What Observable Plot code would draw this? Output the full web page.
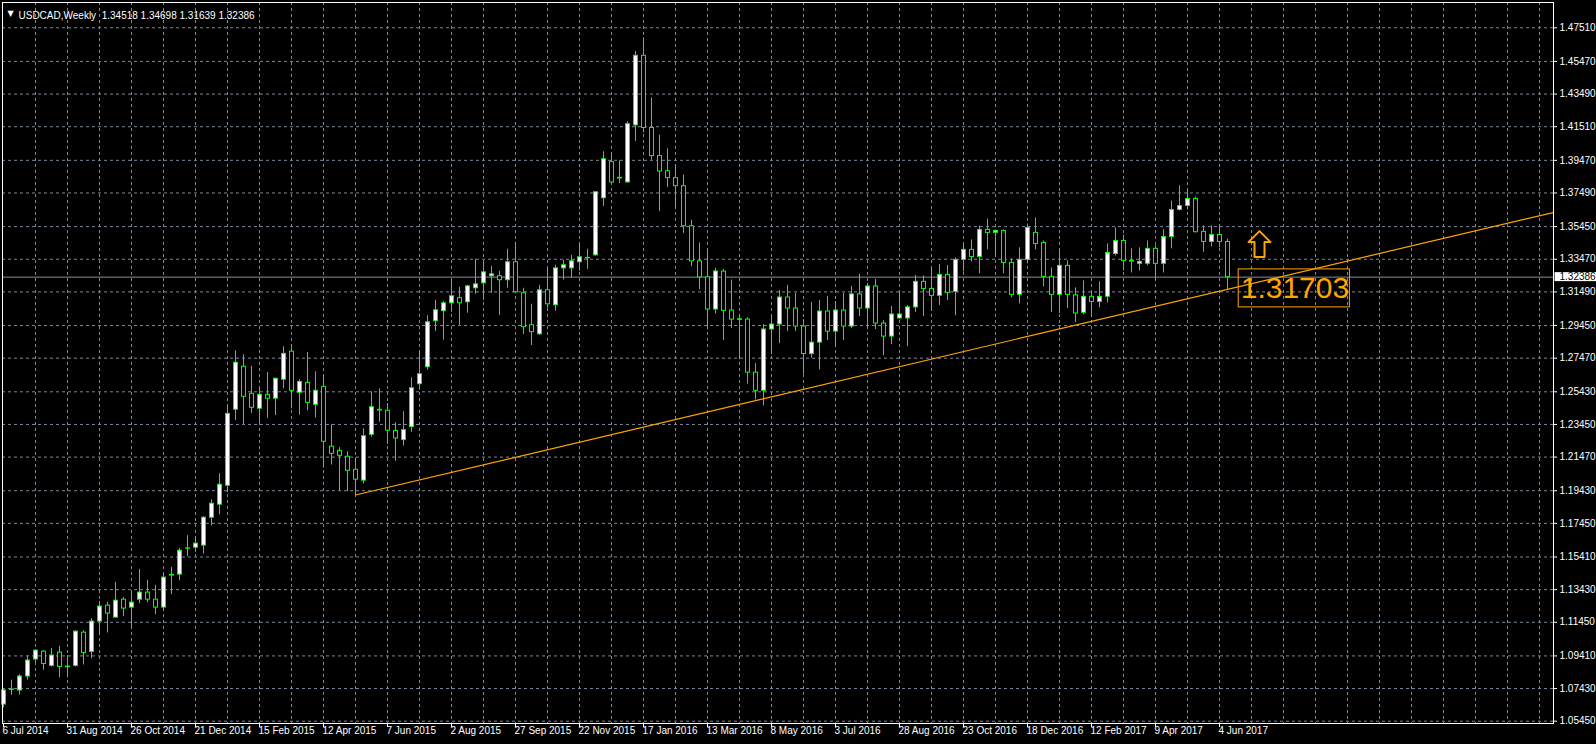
<!DOCTYPE html>
<html><head><meta charset="utf-8">
<script src="https://cdn.jsdelivr.net/npm/d3@7"></script>
<script src="https://cdn.jsdelivr.net/npm/@observablehq/plot@0.6"></script>
<style>
html,body{margin:0;padding:0;background:#000;overflow:hidden;}
#chart svg{display:block;}
</style></head><body><div id="chart"></div>
<script>
// ---- data: weekly USDCAD candles (one per week, first = 6 Jul 2014) ----
const open = [1.0646,1.0735,1.0731,1.0816,1.0919,1.0967,1.0880,1.0961,1.0872,1.0880,
1.1082,1.0965,1.1149,1.1246,1.1173,1.1282,1.1234,1.1282,1.1325,1.1282,
1.1234,1.1428,1.1434,1.1591,1.1597,1.1610,1.1779,1.1858,1.1973,1.2434,
1.2695,1.2531,1.2440,1.2525,1.2501,1.2616,1.2786,1.2537,1.2597,1.2464,
1.2573,1.2210,1.2185,1.2149,1.2070,1.2004,1.2282,1.2430,1.2428,1.2305,
1.2250,1.2329,1.2589,1.2692,1.2971,1.3032,1.3080,1.3111,1.3086,1.3171,
1.3201,1.3244,1.3244,1.3220,1.3329,1.3141,1.2947,1.2892,1.3159,1.3068,
1.3292,1.3292,1.3329,1.3353,1.3371,1.3717,1.3936,1.3837,1.3813,1.4159,
1.4581,1.4143,1.3973,1.3881,1.3839,1.3790,1.3547,1.3334,1.3237,1.3042,
1.3272,1.3036,1.2983,1.2981,1.2659,1.2549,1.2921,1.2951,1.3115,1.3048,
1.2939,1.2772,1.2841,1.3030,1.2908,1.3036,1.2939,1.3134,1.3048,1.3182,
1.2957,1.2878,1.2988,1.2988,1.3055,1.3210,1.3167,1.3125,1.3252,1.3149,
1.3343,1.3404,1.3361,1.3525,1.3507,1.3519,1.3325,1.3131,1.3343,1.3507,
1.3446,1.3240,1.3131,1.3307,1.3128,1.3022,1.3119,1.3088,1.3119,1.3379,
1.3458,1.3337,1.3319,1.3319,1.3410,1.3319,1.3482,1.3646,1.3670,1.3713,
1.3513,1.3452,1.3494,1.34518];
const high = [1.0737,1.0794,1.0828,1.0941,1.0979,1.0973,1.0987,1.0999,1.0943,1.1094,
1.1094,1.1167,1.1272,1.1266,1.1387,1.1296,1.1333,1.1466,1.1400,1.1369,
1.1440,1.1478,1.1593,1.1670,1.1664,1.1785,1.1888,1.2046,1.2458,1.2792,
1.2768,1.2697,1.2567,1.2660,1.2626,1.2816,1.2830,1.2616,1.2781,1.2664,
1.2640,1.2343,1.2204,1.2179,1.2143,1.2319,1.2543,1.2561,1.2471,1.2355,
1.2422,1.2628,1.2783,1.3004,1.3098,1.3092,1.3220,1.3177,1.3189,1.3347,
1.3329,1.3304,1.3274,1.3408,1.3450,1.3171,1.3074,1.3189,1.3292,1.3311,
1.3341,1.3371,1.3438,1.3408,1.3758,1.3999,1.3993,1.3944,1.4181,1.4607,
1.4690,1.4325,1.4100,1.4017,1.3920,1.3859,1.3584,1.3446,1.3407,1.3292,
1.3286,1.3221,1.3012,1.2992,1.2714,1.2951,1.3012,1.3158,1.3189,1.3140,
1.2981,1.3085,1.3097,1.3122,1.3091,1.3140,1.3182,1.3256,1.3201,1.3225,
1.2975,1.3061,1.3146,1.3067,1.3249,1.3246,1.3294,1.3315,1.3309,1.3355,
1.3446,1.3464,1.3549,1.3591,1.3523,1.3525,1.3349,1.3416,1.3561,1.3597,
1.3458,1.3294,1.3404,1.3337,1.3173,1.3216,1.3149,1.3210,1.3440,1.3537,
1.3494,1.3410,1.3416,1.3458,1.3428,1.3525,1.3700,1.3793,1.3773,1.3725,
1.3549,1.3549,1.3549,1.34698];
const low = [1.0626,1.0703,1.0703,1.0794,1.0899,1.0854,1.0874,1.0808,1.0808,1.0874,
1.0886,1.0923,1.1064,1.1080,1.1173,1.1179,1.1107,1.1258,1.1264,1.1191,
1.1210,1.1313,1.1397,1.1543,1.1569,1.1559,1.1729,1.1797,1.1931,1.2369,
1.2345,1.2412,1.2357,1.2381,1.2399,1.2561,1.2440,1.2401,1.2428,1.2383,
1.2080,1.2099,1.1941,1.1937,1.1919,1.1985,1.2268,1.2359,1.2224,1.2121,
1.2214,1.2297,1.2553,1.2674,1.2909,1.2856,1.3026,1.2947,1.3020,1.3135,
1.3098,1.3141,1.3006,1.3171,1.3141,1.2890,1.2824,1.2886,1.3050,1.3032,
1.3220,1.3232,1.3274,1.3286,1.3365,1.3667,1.3802,1.3806,1.3809,1.4062,
1.4113,1.3948,1.3636,1.3782,1.3650,1.3504,1.3302,1.3162,1.2919,1.3014,
1.2854,1.2927,1.2738,1.2590,1.2494,1.2458,1.2768,1.2835,1.2908,1.2908,
1.2651,1.2748,1.2675,1.2854,1.2811,1.2854,1.2927,1.3000,1.2921,1.2921,
1.2762,1.2829,1.2981,1.2817,1.3024,1.3000,1.3030,1.3067,1.3097,1.3004,
1.3270,1.3331,1.3258,1.3404,1.3361,1.3258,1.3113,1.3076,1.3319,1.3404,
1.3179,1.3024,1.3018,1.3048,1.2963,1.3010,1.2995,1.3052,1.3082,1.3367,
1.3276,1.3264,1.3276,1.3307,1.3216,1.3264,1.3410,1.3640,1.3646,1.3507,
1.3389,1.3422,1.3416,1.31639];
const close = [1.0731,1.0737,1.0816,1.0913,1.0973,1.0892,1.0943,1.0874,1.0876,1.1088,
1.0959,1.1149,1.1240,1.1198,1.1276,1.1228,1.1264,1.1325,1.1282,1.1234,
1.1416,1.1432,1.1579,1.1593,1.1622,1.1779,1.1864,1.1979,1.2409,1.2719,
1.2513,1.2446,1.2525,1.2501,1.2622,1.2773,1.2549,1.2603,1.2476,1.2549,
1.2240,1.2167,1.2155,1.2064,1.2010,1.2274,1.2450,1.2434,1.2307,1.2260,
1.2311,1.2565,1.2650,1.2965,1.3038,1.3080,1.3123,1.3080,1.3183,1.3195,
1.3268,1.3256,1.3220,1.3329,1.3147,1.2935,1.2905,1.3159,1.3074,1.3292,
1.3311,1.3335,1.3359,1.3355,1.3754,1.3954,1.3813,1.3841,1.4167,1.4581,
1.4143,1.3973,1.3879,1.3839,1.3790,1.3547,1.3334,1.3237,1.3042,1.3273,
1.3034,1.2981,1.2979,1.2659,1.2549,1.2921,1.2951,1.3115,1.3048,1.2939,
1.2772,1.2841,1.3030,1.2908,1.3036,1.2939,1.3134,1.3048,1.3182,1.2957,
1.2878,1.3012,1.3012,1.3055,1.3210,1.3167,1.3125,1.3252,1.3143,1.3343,
1.3404,1.3361,1.3525,1.3507,1.3519,1.3325,1.3131,1.3343,1.3537,1.3440,
1.3240,1.3131,1.3307,1.3131,1.3018,1.3119,1.3088,1.3119,1.3385,1.3458,
1.3337,1.3333,1.3331,1.3410,1.3319,1.3482,1.3646,1.3670,1.3713,1.3511,
1.3452,1.3494,1.3452,1.32386];
const priceTicks = [1.05450,1.07430,1.09410,1.11450,1.13430,1.15410,1.17450,1.19430,1.21470,1.23450,
1.25430,1.27470,1.29450,1.31490,1.33470,1.35450,1.37490,1.39470,1.41510,1.43490,1.45470,1.47510];
const dateLabels = ["6 Jul 2014","31 Aug 2014","26 Oct 2014","21 Dec 2014","15 Feb 2015","12 Apr 2015",
"7 Jun 2015","2 Aug 2015","27 Sep 2015","22 Nov 2015","17 Jan 2016","13 Mar 2016","8 May 2016",
"3 Jul 2016","28 Aug 2016","23 Oct 2016","18 Dec 2016","12 Feb 2017","9 Apr 2017","4 Jun 2017"];
const titleText = "USDCAD,Weekly  1.34518 1.34698 1.31639 1.32386";
const bidPrice = 1.32386;
const trendBars = [44, 193.75];
const trendPrices = [1.1917, 1.3631];
const levelPrice = 1.31703;
const levelBars = [154.4, 168.3];
const arrowBar = 157;
const arrowPrice = 1.336;

// ---- build ----
const candles = open.map((o, i) => ({bar: i, open: o, high: high[i], low: low[i], close: close[i],
  top: Math.max(o, close[i]), bottom: Math.min(o, close[i]), up: close[i] >= o}));
const barsPerLabel = 8, barsPerGrid = 4;
const xDomain = [-0.125, 193.75];
const yDomain = [1.053105, 1.49044];
const labelBars = dateLabels.map((_, k) => k * barsPerLabel);
const gridBars = d3.range(barsPerGrid, xDomain[1], barsPerGrid);
const trend = trendBars.map((b, k) => ({bar: b, price: trendPrices[k]}));

const LIME = "#00ff00", GRID = "#7a8898", ORANGE = "#ffa500", BID = "#8090a0";
const big = candles.filter(d => d.top - d.bottom > 0.0009);

const hollowArrow = {draw(ctx, l) {
  const hw = 11, sw = 5, hh = 11;
  ctx.moveTo(-sw, 0); ctx.lineTo(-sw, -(l - hh)); ctx.lineTo(-hw, -(l - hh));
  ctx.lineTo(0, -l); ctx.lineTo(hw, -(l - hh)); ctx.lineTo(sw, -(l - hh));
  ctx.lineTo(sw, 0); ctx.closePath();
}};

const chart = Plot.plot({
  width: 1596, height: 744,
  marginTop: 2, marginRight: 43, marginBottom: 21, marginLeft: 2,
  x: {domain: xDomain, axis: null},
  y: {domain: yDomain, axis: null},
  style: {background: "#000", color: "#fff", fontFamily: "'Liberation Sans', Arial, sans-serif", fontSize: "10px"},
  marks: [
    Plot.ruleY(priceTicks, {y: d => d, stroke: GRID, strokeDasharray: "3,3"}),
    Plot.ruleX(gridBars, {x: d => d, stroke: GRID, strokeDasharray: "3,3"}),
    Plot.ruleY([bidPrice], {y: d => d, stroke: BID}),
    Plot.ruleX(candles, {x: "bar", y1: "high", y2: "low", stroke: LIME}),
    Plot.ruleX(candles, {x: "bar", y1: "top", y2: "bottom", stroke: LIME, strokeWidth: 5, insetTop: -0.5, insetBottom: -0.5}),
    Plot.ruleX(big.filter(d => d.up), {x: "bar", y1: "top", y2: "bottom", stroke: "#fff", strokeWidth: 3, insetTop: 0.5, insetBottom: 0.5}),
    Plot.ruleX(big.filter(d => !d.up), {x: "bar", y1: "top", y2: "bottom", stroke: "#000", strokeWidth: 3, insetTop: 0.5, insetBottom: 0.5}),
    Plot.line(trend, {x: "bar", y: "price", stroke: ORANGE, strokeWidth: 1.2, clip: true}),
    Plot.rect([levelPrice], {x1: () => levelBars[0], x2: () => levelBars[1], y1: d => d, y2: d => d,
      insetTop: -19, insetBottom: -19, stroke: ORANGE, fill: "none"}),
    Plot.text([levelPrice], {x: () => levelBars[0], y: d => d, text: d => d.toFixed(5), textAnchor: "start",
      dx: 2, fill: ORANGE, fontSize: 30, fontFamily: "Arial, 'Liberation Sans', sans-serif"}),
    Plot.vector([arrowPrice], {x: () => arrowBar, y: d => d, length: 26, anchor: "start", shape: hollowArrow,
      stroke: ORANGE, strokeWidth: 2, fill: "none"}),
    Plot.frame({stroke: "#fff"}),
    // right price axis
    Plot.ruleY(priceTicks, {y: d => d, x1: () => xDomain[1], x2: () => xDomain[1], insetRight: -4, stroke: "#fff"}),
    Plot.text(priceTicks, {y: d => d, frameAnchor: "right", dx: 6, textAnchor: "start", text: d => d.toFixed(5), fill: "#fff"}),
    Plot.rect([bidPrice], {x1: () => xDomain[1] + 0.2, x2: () => xDomain[1] + 6, y1: d => d, y2: d => d,
      insetTop: -4.5, insetBottom: -4.5, fill: "#fff"}),
    Plot.text([bidPrice], {y: d => d, frameAnchor: "right", dx: 6, textAnchor: "start", text: d => d.toFixed(5), fill: "#000"}),
    // bottom time axis
    Plot.ruleX(labelBars, {x: d => d, y1: () => yDomain[0], y2: () => yDomain[0], insetBottom: -4, stroke: "#fff"}),
    Plot.text(labelBars, {x: d => d, frameAnchor: "bottom", dy: 10, dx: -1, textAnchor: "start",
      text: (d, i) => dateLabels[i], fill: "#fff"}),
    // title
    Plot.text(["\u25BC"], {frameAnchor: "top-left", dx: 5, dy: 8, textAnchor: "start", fill: "#fff", fontSize: 8, fontFamily: "'DejaVu Sans', sans-serif"}),
    Plot.text([titleText], {frameAnchor: "top-left", dx: 16, dy: 9, textAnchor: "start", fill: "#fff", fontSize: 10})
  ]
});
document.getElementById("chart").appendChild(chart);
</script>
</body></html>
